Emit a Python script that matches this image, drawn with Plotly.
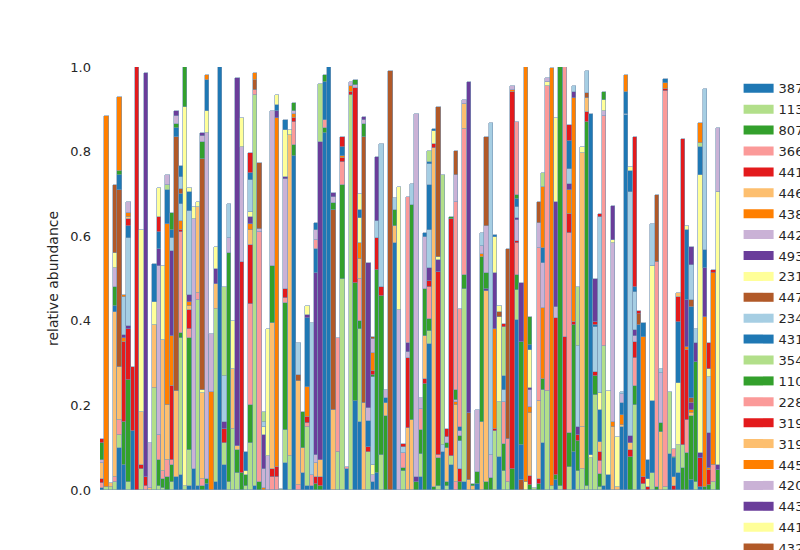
import plotly.graph_objects as go

N_SAMPLES = 142

# taxon labels (legend is clipped at the right edge of the figure, as in the reference)
taxa = ["387417", "1136097", "807795", "366044", "4414420", "4465746", "4381553",
        "4424239", "4933553", "231529", "4477696", "2343466", "4312392", "354905",
        "1109885", "228057", "3199103", "3190878", "4455859", "4201520", "4439603",
        "4414257", "4327540", "4390101", "4481131", "3620715", "1107027", "4306262",
        "4357091"]

# relative abundance per taxon, {sample index: value}
s00 = {0:.005,4:.1,5:.06,7:.14,17:.03,18:.035,20:.01,21:.05,22:.01,24:.015,26:.02,27:1.0,28:.06,35:.01,42:.063,44:.79,46:.04,47:.01,48:.01,51:.845,52:1.0,56:.05,58:.21,59:.16,62:.02,63:.04,67:.585,73:.03,75:.345,78:.09,80:.06,83:.02,86:.015,91:.079,95:.402,101:.11,104:.024,108:.09,115:.01,116:.035,119:.15,120:.886,123:.39,130:.085,132:.04,135:.024,137:.007}
s01 = {1:.008,2:.008,3:.02,4:.03,6:.02,9:.05,12:.24,13:.01,14:.005,16:.02,18:.325,19:.01,20:.085,22:.44,26:.407,28:.05,29:.02,30:.145,31:.04,33:.01,34:.11,35:.925,41:.003,42:.08,43:.08,47:.14,54:.09,55:.5,57:.935,59:.22,61:.09,64:.083,69:.045,73:.055,75:.03,77:.01,79:.01,80:.02,83:.456,90:.14,91:.13,92:.045,93:.02,95:.071,99:.004,101:.126,102:.235,103:.01,105:.01,107:.055,109:.045,110:.05,111:.01,112:.075,113:.225,114:.008,115:.33,122:.2,124:.015,126:.04,129:.008,130:.147,132:.066,136:.02,140:.02}
s02 = {5:.1,6:.24,13:.06,14:.02,15:.03,16:.04,18:.01,20:.265,23:.01,24:.01,29:.54,31:.055,32:.04,33:.025,34:.09,36:.02,42:.3,44:.025,49:.015,50:.01,51:.01,55:.22,58:.28,59:.02,63:.48,64:.376,65:.175,69:.006,72:.02,73:.057,74:.25,75:.03,76:.008,77:.065,79:.01,82:.02,83:.032,86:.028,88:.02,89:.028,92:.063,94:.05,95:.035,98:.012,100:.015,101:.026,104:.011,105:.99,107:.079,108:.3,109:.07,111:.86,113:.045,114:.031,121:.079,122:.045,127:.008,133:.051,134:.087,135:.15,136:.283,138:.008,139:.012,141:.047}
s03 = {0:.012,3:.01,4:.035,10:.01,13:.06,14:.02,15:.04,16:.01,18:.24,20:.02,22:.015,23:.015,34:.24,35:.01,36:.59,39:.03,40:.03,42:.012,44:.055,45:.012,47:.008,48:.025,51:.02,54:.27,55:.055,56:.004,59:.1,69:.036,73:.05,75:.075,77:.008,81:.02,83:.345,92:.1,93:.1,95:.075,102:.72,107:.473,114:.03,115:.544,122:.066,127:.532,129:.935,134:.078,140:.039}
s04 = {0:.008,5:.19,6:.12,7:.15,8:1.0,9:.008,10:.02,16:.175,18:.005,20:.045,28:.035,32:.5,34:.14,39:.02,40:.025,42:.02,44:.01,47:.015,49:.015,50:.02,55:.01,57:.007,58:.46,61:.012,63:.075,64:.02,74:.012,75:.015,77:.433,80:.56,82:.03,90:.005,94:.89,95:.005,98:.02,100:.01,104:.371,106:.362,107:.045,108:.008,109:.015,111:.024,113:.01,114:.02,121:.016,122:.04,124:.015,125:.008,129:.004,131:.01,134:.166,137:.068,139:.035}
s05 = {0:.04,2:.009,3:.39,4:.125,9:.127,11:.005,12:.15,14:.31,15:.13,17:.205,20:.01,22:.205,23:.205,26:.06,30:.14,31:.01,34:.035,39:.345,43:.76,45:.245,46:.06,49:.035,50:.04,53:.19,59:.045,60:.205,65:.03,67:.04,70:.146,71:.166,74:.103,76:.8,79:.08,81:.18,83:.06,84:.024,85:.01,87:.16,88:.45,98:.15,100:.185,110:.1,111:.032,114:.025,117:.15,118:.008,119:.004,121:.017,128:.138,131:.02,135:.008}
s06 = {1:.875,5:.01,15:.43,16:.12,18:.02,20:.01,25:.232,34:.015,37:.005,40:.825,44:.01,47:.071,55:.005,57:.012,59:.04,81:.008,90:.235,94:.006,98:.015,101:.168,103:.987,107:.057,108:.528,117:.01,119:.024,124:.332,129:.016,134:.008,135:.008,138:.402,139:.004,140:.453}
s07 = {0:.006,11:.105,13:.4,21:.59,24:.82,25:.137,29:.035,32:.27,36:.008,37:.045,38:.08,42:.26,44:.005,49:.018,57:.011,58:.007,62:.015,68:.426,73:.025,81:.005,83:.01,86:.147,89:.055,94:.01,95:.05,98:.04,101:.106,104:.026,115:.012,117:.425,122:.012}
s08 = {5:.006,6:.008,10:.955,13:.04,16:.2,20:.015,26:.035,28:.015,31:.87,34:.015,37:.08,40:.015,42:.005,49:.43,50:.753,72:.01,75:.03,77:.027,88:.006,90:.132,95:.005,98:.005,104:.25,107:.014,108:.015,109:.02,121:.016,122:.015,134:.11,135:.015,136:.044,137:.012,138:.114,139:.083,141:.012}
s09 = {9:.43,12:.055,14:.175,19:.895,21:.03,22:.01,23:.007,24:.05,26:.052,30:.115,32:.07,33:.01,34:.012,37:.02,38:.3,42:.11,43:.012,59:.058,62:.025,68:.29,77:.009,90:.085,91:.2,97:.02,98:.09,102:.01,104:.197,112:.008,115:.027,116:.2,117:.006,118:.117,125:.018,132:.146,137:.658,141:.646}
s10 = {4:.42,17:.6,23:.545,35:.025,36:.156,45:.015,53:.473,60:.63,66:.99,77:.353,84:.157,91:.012,93:.449,96:.024,111:.012,123:.025,127:.157,135:.012}
s11 = {5:.09,6:.207,16:.03,18:.04,20:.2,28:.11,29:.08,34:.075,37:.01,45:.076,48:.36,62:.208,63:.04,64:.338,69:.015,75:.09,78:.016,82:.065,89:.784,92:.028,95:.025,107:.037,108:.015,109:.19,111:.053,113:.105,120:.004,121:.576,122:.09,136:.033,139:.134}
s12 = {3:.015,4:.035,6:.03,12:.09,13:.04,15:.08,16:.02,17:.02,18:.025,20:.045,24:.075,33:.045,34:.018,40:.015,42:.025,47:.162,49:.057,51:.09,55:.02,59:.02,61:.06,65:.012,75:.105,90:.006,92:.034,95:.02,96:.083,98:.01,101:.035,107:.065,112:.806,113:.005,114:.075,119:.027,120:.05,121:.05,122:.012,124:.032,125:.045,126:.17,129:.008,131:.045,132:.145,134:.165,135:.216,137:.065,138:.043}
s13 = {15:.01,28:.21,37:.025,50:.137,78:.639,92:.115,109:.14,133:.055,137:.01}
s14 = {0:.04,3:.045,4:.01,16:.04,17:.01,19:.095,23:.04,39:.135,44:.02,46:.085,51:.015,53:.015,58:.013,60:.03,62:.005,67:.037,71:.508,74:.11,79:.01,80:.005,81:.023,82:.012,85:.005,87:.392,88:.037,95:.01,96:.244,98:.068,115:.018,128:.02,131:.003}
s15 = {49:.02,81:.446,95:.173,100:.361,106:.638,131:.02}
s16 = {0:.01,6:.015,13:.035,34:.046,55:.025,62:.008,69:.006,70:.166,76:.01,92:.007,107:.039,113:.008,122:.355,123:.009,132:.06,133:.723,140:.008}
s17 = {6:.005,110:.646,132:.008}
s18 = {4:.175,5:.004,6:.01,24:.01,35:.015,62:.042,87:.006,97:.98,101:.145,120:.04,137:.047}
s19 = {3:.045,6:.025,15:.025,17:.02,23:.015,39:.365,49:.025,53:.015,60:.01,61:.031,62:.035,65:.019,70:.015,72:.859,74:.122,79:.015,81:.063,82:.012,87:.02,88:.11,100:.061,102:.008,119:.023,128:.118,141:.15}
s20 = {17:.01,23:.008,47:.008,53:.01,60:.006,61:.343,63:.153,70:.02,84:.784,96:.139,113:.1,117:.081}
s21 = {3:.035,13:.07,20:.01,40:.025,47:.022,59:.037,76:.03,91:.015,110:.014,114:.04,121:.01,126:.32,134:.009,139:.019}
s22 = {3:.16,18:.012,62:.004,81:.057,88:.211,100:.048,135:.016}
s23 = {18:.028,67:.028,71:.049,75:.05,87:.029,114:.417,119:.004,126:.1,128:.011,135:.083,138:.38}
s24 = {18:.025,49:.017,74:.01,75:.005,76:.005,82:.01}
s25 = {75:.027,101:.034}
s26 = {70:.345,82:.278}
s27 = {79:.02,114:.006,139:.061}
s28 = {135:.043}

series = [s00, s01, s02, s03, s04, s05, s06, s07, s08, s09, s10, s11, s12, s13, s14,
          s15, s16, s17, s18, s19, s20, s21, s22, s23, s24, s25, s26, s27, s28]

# colour styling: Paired palette cycle
PAIRED = ["#1f78b4", "#b2df8a", "#33a02c", "#fb9a99", "#e31a1c", "#fdbf6f",
          "#ff7f00", "#cab2d6", "#6a3d9a", "#ffff99", "#b15928", "#a6cee3"]
color_slot = list(range(26)) + [27, 28, 32]

samples = list(range(N_SAMPLES))

fig = go.Figure()
for name, slot, data in zip(taxa, color_slot, series):
    col = PAIRED[slot % 12]
    fig.add_trace(go.Bar(
        x=samples,
        y=[data.get(k) for k in samples],
        name=name,
        legendgroup=name,
        showlegend=False,
        marker=dict(color=col,
                    line=dict(color="rgba(120,150,180,0.75)", width=0.8)),
    ))
    # legend swatch for this taxon (wide flat patch, like the reference legend)
    fig.add_trace(go.Scatter(
        x=[None], y=[None], mode="lines", name=name, legendgroup=name,
        line=dict(color=col, width=9), hoverinfo="skip", showlegend=True,
    ))

fig.update_layout(
    width=800, height=550,
    barmode="stack", bargap=0,
    margin=dict(l=100, r=80, t=67, b=60, autoexpand=False),
    plot_bgcolor="white", paper_bgcolor="white",
    font=dict(family="DejaVu Sans", size=13, color="#262626"),
    legend=dict(x=1.03, xanchor="left", y=0.985, yanchor="top",
                font=dict(size=13, color="#262626"), tracegroupgap=1,
                maxheight=1500, bgcolor="rgba(0,0,0,0)"),
    xaxis=dict(visible=False, range=[-0.5, N_SAMPLES - 0.5]),
    yaxis=dict(range=[0, 1], tickvals=[0, 0.2, 0.4, 0.6, 0.8, 1.0],
               tickformat=".1f", showgrid=False, zeroline=False, showline=False,
               ticks="", ticklabelstandoff=8,
               tickfont=dict(size=13, color="#262626"),
               title=dict(text="relative abundance", font=dict(size=14, color="#262626"),
                          standoff=8)),
)

fig.write_html("out.html")
